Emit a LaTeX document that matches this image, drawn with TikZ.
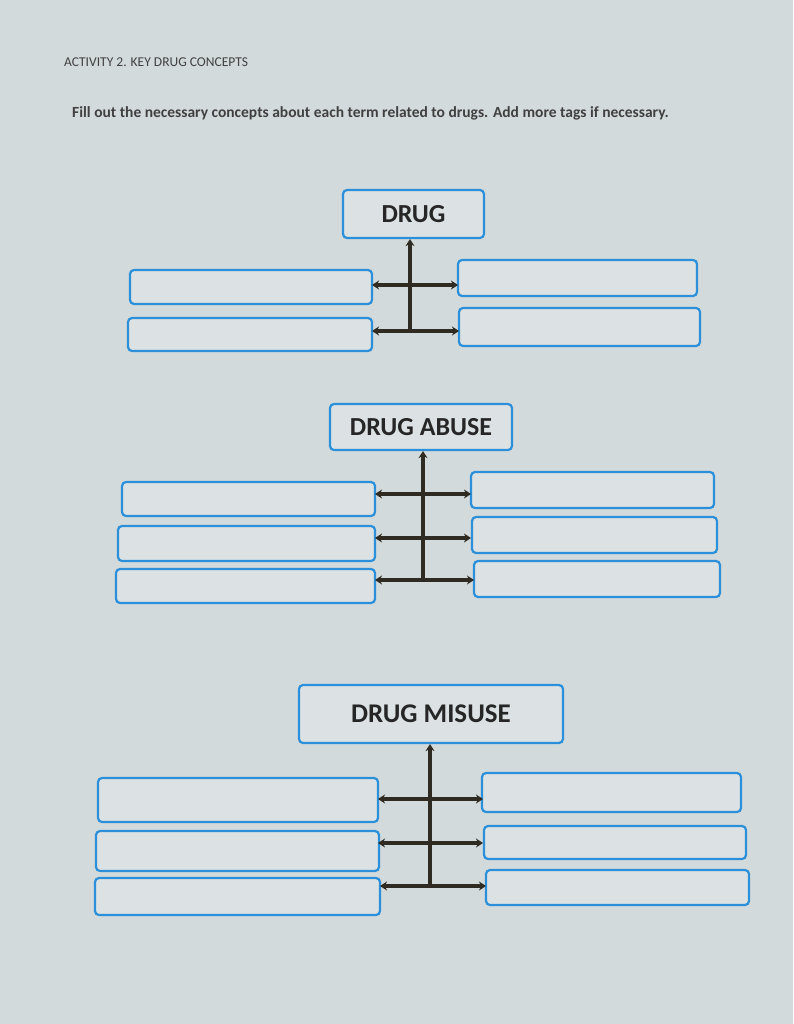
\documentclass[tikz,border=0pt]{standalone}
\usepackage{fontspec}
\setmainfont{Carlito}
\usetikzlibrary{arrows.meta}
\definecolor{bg}{HTML}{D3DADC}
\definecolor{boxfill}{HTML}{DCE2E3}
\definecolor{boxline}{HTML}{2B8FD9}
\definecolor{ln}{HTML}{2F2B22}
\tikzset{
 tag/.style={draw=boxline,line width=2.2pt,fill=boxfill,rounded corners=4pt},
 conn/.style={draw=ln,line width=3.5pt,-{Stealth[length=7pt,width=9pt]}},
 twoway/.style={draw=ln,line width=3.5pt,{Stealth[length=7pt,width=9pt]}-{Stealth[length=7pt,width=9pt]}},
 ttl/.style={font=\bfseries\fontsize{26}{28}\selectfont,text=black!85}
}
\newcommand{\tagbox}[5]{\path[tag] (#2,#3) rectangle (#4,#5); \coordinate (#1W) at (#2,{(#3+#5)/2}); \coordinate (#1E) at (#4,{(#3+#5)/2});}
\begin{document}
\begin{tikzpicture}[x=1pt,y=-1pt]
\fill[bg] (0,0) rectangle (793,1024);
\useasboundingbox (0,0) rectangle (793,1024);
\node[anchor=west,font=\fontsize{13.5}{15}\selectfont,text=black!75,inner sep=0pt] (h1) at (64,62) {ACTIVITY 2. KEY DRUG CONCEPTS};
\node[anchor=west,font=\bfseries\fontsize{15.5}{17}\selectfont,text=black!75,inner sep=0pt] (h2) at (72,113) {Fill out the necessary concepts about each term related to drugs. Add more tags if necessary.};
% DRUG
\node[tag,ttl,minimum width=141pt,minimum height=48pt] (t1) at (413.5,214) {DRUG};
\tagbox{a1}{130}{270}{372}{304}
\tagbox{a2}{128}{318}{372}{351}
\tagbox{b1}{458}{260}{697}{296}
\tagbox{b2}{459}{308}{700}{346}
\coordinate (v1) at (410,331);
\draw[conn] (v1) -- (t1.south -| v1);
\draw[twoway] (372,285) -- (458,285);
\draw[conn] (410,331) -- (372,331);
\draw[conn] (410,331) -- (459,331);
% DRUG ABUSE
\node[tag,ttl,minimum width=182pt,minimum height=46pt] (t2) at (421,427) {DRUG ABUSE};
\tagbox{c1}{122}{482}{375}{516}
\tagbox{c2}{118}{526}{375}{561}
\tagbox{c3}{116}{569}{375}{603}
\tagbox{d1}{471}{472}{714}{508}
\tagbox{d2}{472}{517}{717}{553}
\tagbox{d3}{474}{561}{720}{597}
\coordinate (v2) at (423,580);
\draw[conn] (v2) -- (t2.south -| v2);
\foreach \y in {494,538} {\draw[twoway] (375,\y) -- (471,\y);}
\draw[conn] (423,580) -- (375,580);
\draw[conn] (423,580) -- (474,580);
% DRUG MISUSE
\node[tag,ttl,font=\bfseries\fontsize{27}{29}\selectfont,minimum width=264pt,minimum height=58pt] (t3) at (431,714) {DRUG MISUSE};
\tagbox{e1}{98}{778}{378}{822}
\tagbox{e2}{96}{831}{379}{871}
\tagbox{e3}{95}{878}{380}{915}
\tagbox{f1}{482}{773}{741}{812}
\tagbox{f2}{484}{826}{746}{859}
\tagbox{f3}{486}{870}{749}{905}
\coordinate (v3) at (430,886);
\draw[conn] (v3) -- (t3.south -| v3);
\foreach \y in {799,843} {\draw[twoway] (378,\y) -- (483,\y);}
\draw[conn] (430,886) -- (380,886);
\draw[conn] (430,886) -- (486,886);
\end{tikzpicture}
\end{document}
